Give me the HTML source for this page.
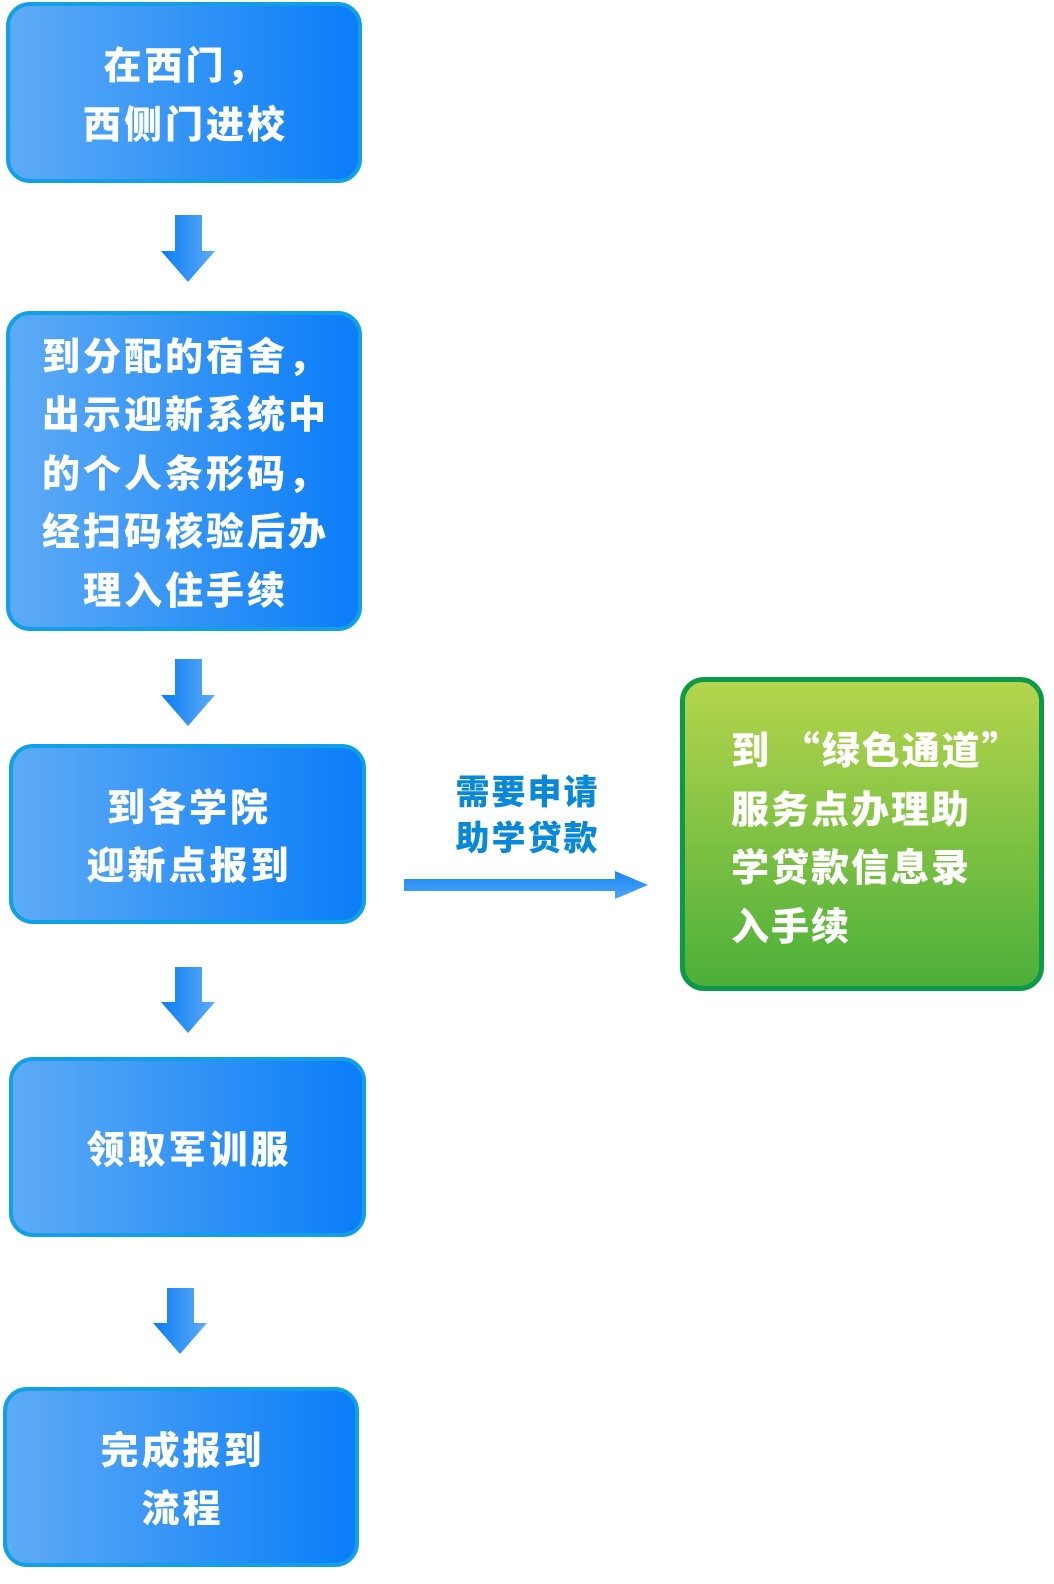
<!DOCTYPE html>
<html><head><meta charset="utf-8"><style>
body{margin:0;width:1054px;height:1584px;background:#fff;position:relative;overflow:hidden;font-family:"Noto Sans CJK SC","Liberation Sans",sans-serif;}
.b{position:absolute;box-sizing:border-box;border:4px solid #11a0e6;border-radius:24px;background:linear-gradient(to right,#5eabf5,#0a7df8);color:#fff;font-weight:900;font-size:38px;line-height:58.5px;text-align:center;display:flex;flex-direction:column;justify-content:center;letter-spacing:3px;padding-left:3px}
.g{position:absolute;left:680px;top:677px;width:364px;height:314px;box-sizing:border-box;border:5px solid #0c9a48;border-radius:24px;background:linear-gradient(to bottom,#b5d54d,#4caf3a);color:#fff;font-weight:900;font-size:38px;line-height:58.5px;padding:37px 0 0 46px;letter-spacing:2px}
.lbl{position:absolute;left:440px;top:767px;width:175px;text-align:center;color:#0a88d8;font-weight:900;font-size:34px;line-height:46px;letter-spacing:2px}
svg{position:absolute;left:0;top:0}
</style></head><body>
<svg width="1054" height="1584">
<defs><linearGradient id="a" x1="0" x2="1"><stop offset="0" stop-color="#0a7cf5"/><stop offset="1" stop-color="#5eabf5"/></linearGradient>
<linearGradient id="h" x1="0" y1="0" x2="0" y2="1"><stop offset="0" stop-color="#1a84f5"/><stop offset="1" stop-color="#4aa6f2"/></linearGradient></defs>
<g fill="url(#a)">
<polygon points="175,215 202,215 202,251 215,251 188,282 161,251 175,251"/>
<polygon points="175,659 202,659 202,695 215,695 188,726 161,695 175,695"/>
<polygon points="175,967 202,967 202,1002 215,1002 188,1033 161,1002 175,1002"/>
<polygon points="167,1288 194,1288 194,1323 207,1323 180,1354 153,1323 167,1323"/>
</g>
<polygon fill="url(#h)" points="404,879 615,879 615,871 648,885 615,899 615,891 404,891"/>
</svg>
<div class="b" style="left:6px;top:2px;width:356px;height:181px">在西门，<br>西侧门进校</div>
<div class="b" style="left:6px;top:311px;width:356px;height:320px">到分配的宿舍，<br>出示迎新系统中<br>的个人条形码，<br>经扫码核验后办<br>理入住手续</div>
<div class="b" style="left:9px;top:744px;width:357px;height:180px">到各学院<br>迎新点报到</div>
<div class="b" style="left:9px;top:1057px;width:357px;height:180px">领取军训服</div>
<div class="b" style="left:3px;top:1387px;width:356px;height:180px">完成报到<br>流程</div>
<div class="lbl">需要申请<br>助学贷款</div>
<div class="g">到 “绿色通道”<br>服务点办理助<br>学贷款信息录<br>入手续</div>
</body></html>
